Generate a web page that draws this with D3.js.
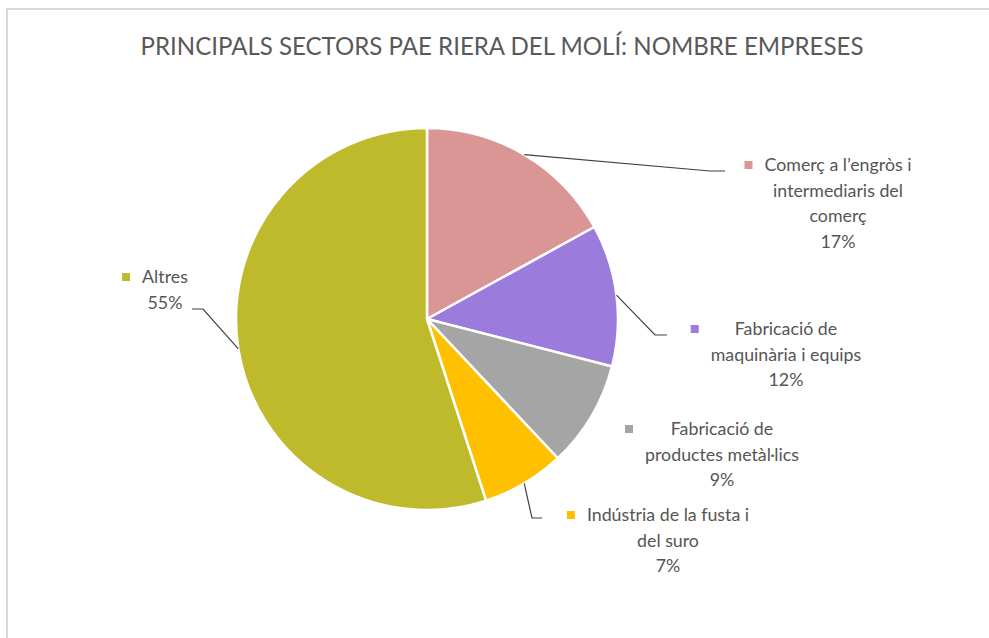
<!DOCTYPE html>
<html>
<head>
<meta charset="utf-8">
<script src="https://cdn.jsdelivr.net/npm/d3@7"></script>
<style>
  body { margin: 0; background: #fff; }
  text { font-family: Lato, "Open Sans", sans-serif; }
</style>
</head>
<body>
<div id="chart"><svg width="989" height="638"></svg></div>
<script>
const svg = d3.select("#chart svg");
const width = 989;
const height = 638;

// dades
const sectors = [
    "Comerç a l’engròs i intermediaris del comerç",
    "Fabricació de maquinària i equips",
    "Fabricació de productes metàl·lics",
    "Indústria de la fusta i del suro",
    "Altres"
];
const values = [17, 12, 9, 7, 55];
const labelLines = [
    ["Comerç a l’engròs i", "intermediaris del", "comerç"],
    ["Fabricació de", "maquinària i equips"],
    ["Fabricació de", "productes metàl·lics"],
    ["Indústria de la fusta i", "del suro"],
    ["Altres"]
];
const colors = ["#d99694", "#9b7bdb", "#a5a5a5", "#ffc000", "#bfba2c"];

// posicions de les etiquetes (centre del text, primera línia) i colze de la línia guia
const labelLayout = [
    {cx: 838, y: 165, elbow: [[710, 171], [725, 171]]},
    {cx: 786, y: 329, elbow: [[655, 335], [667, 335]]},
    {cx: 722, y: 429, elbow: null},
    {cx: 668, y: 515, elbow: [[532, 518], [542, 518]]},
    {cx: 165, y: 277, elbow: [[203, 309], [192, 309]]}
];

const centerX = 427;
const centerY = 319;
const radius = 191;
const lineH = 25.5;

// marc
svg.append("rect")
    .attr("x", 7)
    .attr("y", 9)
    .attr("width", 1100)
    .attr("height", 800)
    .attr("fill", "none")
    .attr("stroke", "#d9d9d9")
    .attr("stroke-width", 2);

// títol
const title = svg.append("text")
    .attr("x", 502)
    .attr("y", 55)
    .attr("text-anchor", "middle")
    .attr("fill", "#595959")
    .attr("font-size", "22px")
    .text("PRINCIPALS SECTORS PAE RIERA DEL MOLÍ: NOMBRE EMPRESES");
const tw = title.node().getComputedTextLength();
if (tw > 0) title.attr("font-size", (22 * 723 / tw).toFixed(2) + "px");

const pie = d3.pie().sort(null).value(d => d)(values);
const arc = d3.arc().innerRadius(0).outerRadius(radius);

const g = svg.append("g").attr("transform", `translate(${centerX},${centerY})`);

g.selectAll("path")
    .data(pie)
    .join("path")
    .attr("d", arc)
    .attr("fill", (d, i) => colors[i])
    .attr("stroke", "#fff")
    .attr("stroke-width", 2.5)
    .attr("stroke-linejoin", "round");

// etiquetes
for (let i = 0; i < pie.length; i++) {
    const lay = labelLayout[i];
    const lines = labelLines[i].concat([values[i] + "%"]);
    const lg = svg.append("g");
    let maxW = 0;
    lines.forEach((ln, k) => {
        const t = lg.append("text")
            .attr("x", lay.cx)
            .attr("y", lay.y + k * lineH)
            .attr("dy", "0.35em")
            .attr("text-anchor", "middle")
            .attr("fill", "#555555")
            .attr("font-size", "17.8px")
            .text(ln);
        maxW = Math.max(maxW, t.node().getComputedTextLength());
    });
    const mx = lay.cx - maxW / 2 - 16;
    lg.append("rect")
        .attr("x", mx - 4)
        .attr("y", lay.y - 4)
        .attr("width", 8)
        .attr("height", 8)
        .attr("fill", colors[i]);

    if (lay.elbow) {
        const a = (pie[i].startAngle + pie[i].endAngle) / 2;
        const px = centerX + radius * Math.sin(a);
        const py = centerY - radius * Math.cos(a);
        const pts = [[px, py]].concat(lay.elbow);
        svg.append("path")
            .attr("d", d3.line()(pts))
            .attr("fill", "none")
            .attr("stroke", "#404040")
            .attr("stroke-width", 1.2);
    }
}
</script>
</body>
</html>
